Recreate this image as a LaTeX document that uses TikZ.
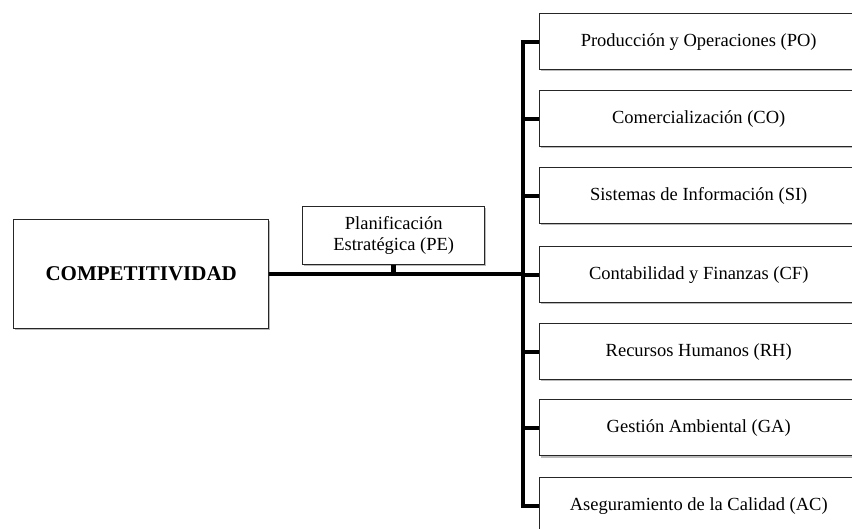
\documentclass[tikz,border=0pt]{standalone}
\usepackage{fontspec}
\setmainfont{Liberation Serif}
\usetikzlibrary{shadows}
\tikzset{
  box/.style={draw=black!85, line width=1.4pt, fill=white, inner sep=0pt,
    drop shadow={shadow xshift=1.2pt, shadow yshift=-1.8pt, fill=black!45, opacity=0.6}},
  areabox/.style={box, anchor=north west, minimum width=318pt, minimum height=56pt,
    font=\fontsize{18.5}{20}\selectfont},
  link/.style={line width=4.5pt, black},
}
\begin{document}
\begin{tikzpicture}[x=1pt,y=-1pt]
\useasboundingbox (0,0) rectangle (852,529);
\fill[white] (0,0) rectangle (852,529);
\node[box, anchor=north west, minimum width=255pt, minimum height=109pt,
  font=\fontsize{21}{24}\selectfont\bfseries] (comp) at (13,219) {COMPETITIVIDAD};
\node[box, anchor=north west, minimum width=182pt, minimum height=58pt,
  align=center, font=\fontsize{18.5}{20.5}\selectfont] (pe) at (302,206)
  {Planificación\\Estratégica (PE)};
\begin{scope}
\clip (0,0) rectangle (852,529);
\node[areabox] (b1) at (539,13) {Producción y Operaciones (PO)};
\node[areabox] (b2) at (539,90) {Comercialización (CO)};
\node[areabox] (b3) at (539,167) {Sistemas de Información (SI)};
\node[areabox] (b4) at (539,246) {Contabilidad y Finanzas (CF)};
\node[areabox] (b5) at (539,323) {Recursos Humanos (RH)};
\node[areabox] (b6) at (539,399) {Gestión Ambiental (GA)};
\node[areabox] (b7) at (539,477) {Aseguramiento de la Calidad (AC)};
\end{scope}
\coordinate (j) at (523,274);
\draw[link] (comp.east |- j) -- (j);
\draw[link] (pe.south) -- (pe.south |- j);
\draw[link] (j |- b1.west) -- (j |- b7.west);
\foreach \b in {b1,b2,b3,b4,b5,b6,b7}{
  \draw[link, line width=4pt] ([xshift=-2.25pt]j |- \b.west) -- (\b.west);
}
\end{tikzpicture}
\end{document}
